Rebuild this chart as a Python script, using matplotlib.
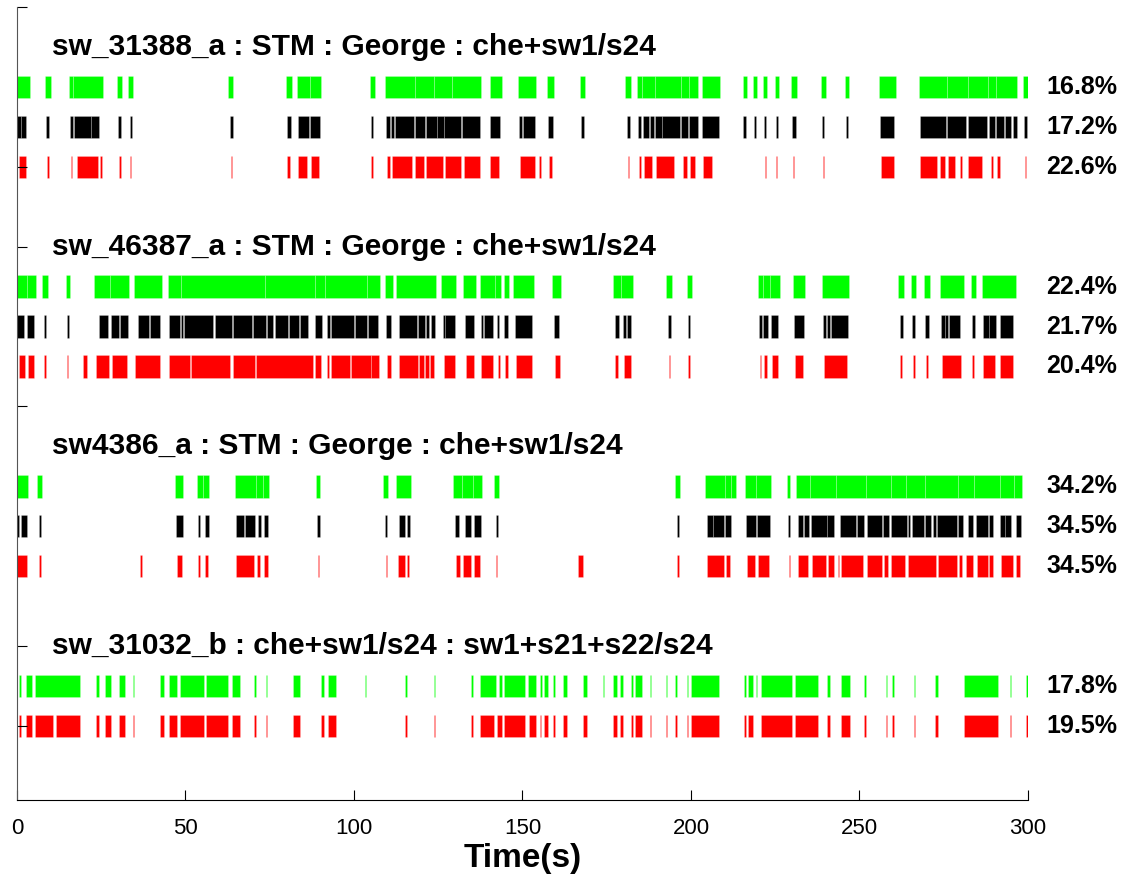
import matplotlib.pyplot as plt

# event intervals (s) for each rater row
g1_green = [(0.0, 3.9), (8.3, 10.0), (15.5, 16.7), (16.7, 25.6), (29.8, 31.3), (33.0, 34.5),
            (62.7, 64.2), (79.7, 81.7), (83.2, 86.8), (86.8, 90.2), (104.7, 106.1),
            (109.2, 118.0), (118.0, 123.6), (123.6, 129.1), (129.1, 137.7), (140.3, 143.8),
            (148.7, 154.1), (157.3, 159.5), (167.0, 168.6), (180.4, 182.2), (184.0, 185.5),
            (185.5, 189.4), (189.4, 196.9), (196.9, 199.5), (199.5, 202.0), (203.2, 208.6),
            (215.3, 216.5), (218.4, 219.7), (221.3, 222.7), (224.8, 226.1), (229.7, 231.5),
            (238.5, 240.0), (245.6, 247.0), (255.9, 260.8), (267.6, 276.1), (276.1, 282.1),
            (282.1, 288.0), (288.0, 290.5), (290.5, 296.7), (298.6, 300.0)]
g1_black = [(0.0, 1.2), (1.2, 2.8), (8.6, 9.6), (15.8, 16.5), (17.0, 22.1), (22.1, 24.3),
            (30.1, 30.9), (33.4, 34.2), (63.3, 64.1), (80.1, 81.3), (83.3, 86.7), (87.0, 89.9),
            (105.0, 105.7), (109.6, 110.6), (111.1, 111.8), (112.1, 117.7), (118.1, 121.1),
            (121.3, 124.6), (124.6, 126.6), (126.8, 131.9), (132.2, 137.4), (140.4, 143.4),
            (149.0, 149.9), (150.1, 153.8), (157.5, 159.1), (167.4, 168.2), (181.1, 181.9),
            (184.2, 185.1), (185.7, 187.5), (187.8, 189.1), (189.4, 191.5), (191.5, 196.7),
            (197.0, 199.1), (199.5, 202.0), (203.4, 208.4), (215.5, 216.2), (218.7, 219.4),
            (221.6, 222.4), (225.1, 225.8), (230.1, 231.1), (238.8, 239.6), (245.9, 246.7),
            (256.1, 260.3), (267.9, 275.7), (276.1, 281.6), (282.1, 287.8), (288.3, 290.2),
            (290.6, 292.8), (293.1, 295.0), (295.5, 296.6), (298.8, 299.7)]
g1_red = [(0.6, 2.7), (8.8, 9.5), (16.0, 16.4), (17.7, 24.1), (24.7, 25.2), (30.3, 30.9),
          (33.5, 33.9), (63.4, 63.8), (80.2, 81.1), (83.5, 86.1), (87.3, 89.6), (105.1, 105.5),
          (109.8, 110.6), (111.3, 117.3), (118.1, 120.9), (121.3, 126.4), (127.0, 131.9),
          (132.6, 137.4), (140.5, 143.0), (149.3, 153.8), (154.8, 155.6), (157.8, 158.8),
          (181.2, 181.7), (184.5, 185.1), (186.0, 188.5), (189.7, 195.1), (197.6, 198.9),
          (199.7, 201.2), (203.7, 206.3), (221.9, 222.2), (225.3, 225.6), (230.3, 230.6),
          (239.1, 239.4), (256.3, 260.1), (268.1, 272.9), (273.9, 275.3), (276.4, 278.4),
          (279.7, 280.4), (282.1, 286.5), (288.9, 289.6), (290.8, 291.8), (299.1, 299.5)]

g2_green = [(0.1, 2.9), (2.9, 5.6), (7.5, 9.2), (14.5, 15.8), (22.9, 27.7), (27.7, 33.3),
            (34.7, 43.0), (44.8, 48.8), (48.8, 73.5), (73.5, 88.3), (88.3, 91.4), (91.4, 103.9),
            (103.9, 107.8), (109.3, 111.5), (112.6, 124.2), (125.9, 130.3), (132.3, 136.2),
            (137.3, 141.8), (141.8, 143.5), (144.4, 146.1), (147.2, 153.3), (158.9, 161.5),
            (176.9, 179.3), (179.3, 182.7), (192.7, 194.3), (198.7, 200.2), (219.9, 221.4),
            (221.4, 223.5), (223.5, 226.3), (230.3, 233.8), (238.9, 246.9), (261.5, 263.2),
            (265.4, 266.9), (269.2, 270.9), (273.9, 280.9), (283.0, 284.7), (286.4, 296.5)]
g2_black = [(0.1, 2.0), (2.9, 4.9), (7.9, 8.7), (14.7, 15.4), (24.4, 26.9), (27.9, 30.2),
            (30.5, 33.0), (35.8, 39.3), (39.6, 42.5), (45.1, 48.4), (48.8, 49.4), (49.6, 58.3),
            (58.7, 63.8), (64.2, 69.7), (70.1, 74.0), (74.3, 76.1), (76.6, 80.3), (80.6, 83.6),
            (84.1, 86.5), (88.4, 90.5), (92.0, 93.0), (93.2, 99.9), (100.2, 103.9),
            (104.2, 107.1), (109.6, 111.1), (113.3, 118.7), (118.9, 121.2), (121.3, 122.3),
            (122.9, 123.9), (126.3, 126.9), (127.1, 130.0), (133.0, 135.7), (137.7, 138.2),
            (138.7, 141.2), (142.3, 143.1), (144.6, 145.8), (147.9, 152.9), (159.5, 160.8),
            (177.4, 178.5), (179.8, 180.8), (180.9, 182.1), (193.2, 194.0), (199.0, 199.8),
            (220.3, 221.1), (221.5, 223.0), (223.7, 225.8), (230.6, 233.4), (239.2, 240.1),
            (240.4, 241.3), (241.5, 246.5), (262.0, 262.9), (265.6, 266.5), (269.5, 270.5),
            (274.2, 275.3), (275.5, 276.3), (276.6, 279.9), (283.3, 284.3), (286.7, 288.3),
            (288.5, 290.4), (291.6, 295.7)]
g2_red = [(0.7, 2.4), (3.2, 5.1), (8.0, 8.6), (14.9, 15.2), (19.7, 20.9), (23.5, 27.2),
          (28.1, 32.6), (35.0, 42.5), (45.2, 51.4), (51.7, 63.3), (64.1, 70.5), (70.8, 87.8),
          (88.5, 90.3), (92.0, 92.7), (93.3, 98.9), (99.2, 105.0), (105.0, 107.3),
          (109.8, 111.0), (113.5, 118.9), (119.3, 120.7), (121.2, 122.2), (122.7, 123.7),
          (126.6, 129.9), (133.1, 135.5), (137.8, 141.2), (142.6, 143.2), (144.8, 145.7),
          (148.0, 152.7), (159.7, 161.0), (177.6, 178.4), (180.0, 182.1), (193.4, 193.9),
          (199.2, 199.7), (220.5, 220.9), (221.7, 222.7), (224.0, 225.7), (230.8, 233.1),
          (239.5, 246.2), (262.1, 262.5), (265.8, 266.4), (269.7, 270.3), (274.4, 280.1),
          (283.5, 284.1), (286.8, 290.2), (291.8, 295.7)]

g3_green = [(0.1, 3.3), (6.0, 7.4), (46.9, 49.4), (53.5, 55.2), (55.2, 57.1), (64.7, 70.9),
            (70.9, 73.0), (73.0, 74.9), (88.6, 90.0), (108.7, 110.1), (112.4, 116.9),
            (129.4, 132.0), (132.0, 135.3), (135.3, 137.9), (141.6, 142.9), (195.4, 196.8),
            (204.3, 210.0), (210.0, 212.0), (212.0, 213.5), (215.9, 219.4), (219.4, 223.8),
            (228.4, 229.5), (231.1, 235.3), (235.3, 242.9), (242.9, 251.8), (251.8, 259.3),
            (259.3, 263.9), (263.9, 269.3), (269.3, 279.1), (279.1, 284.0), (284.0, 291.6),
            (291.6, 296.0), (296.0, 298.2)]
g3_black = [(0.0, 0.6), (1.2, 3.0), (6.4, 7.0), (47.2, 49.2), (53.8, 54.4), (55.7, 56.9),
            (65.0, 67.5), (67.8, 70.5), (71.6, 72.5), (73.3, 74.6), (89.1, 89.8), (109.2, 109.9),
            (113.5, 115.1), (115.6, 116.6), (130.1, 131.2), (132.9, 134.8), (135.6, 137.6),
            (142.0, 142.6), (195.8, 196.5), (204.7, 206.5), (206.5, 209.8), (210.2, 211.9),
            (216.3, 219.3), (219.6, 223.4), (228.8, 229.4), (231.7, 233.1), (233.4, 235.1),
            (235.7, 240.3), (240.5, 242.4), (244.1, 249.0), (249.4, 251.4), (252.1, 256.8),
            (257.1, 258.8), (259.3, 264.0), (264.3, 265.0), (265.5, 269.0), (269.4, 271.2),
            (271.8, 272.7), (273.0, 278.9), (279.3, 280.6), (282.1, 283.6), (284.6, 288.0),
            (288.3, 289.7), (291.7, 293.1), (293.2, 295.1), (296.3, 297.9)]
g3_red = [(0.1, 3.0), (6.5, 7.0), (36.5, 37.1), (47.4, 49.0), (53.8, 54.4), (55.9, 56.6),
          (65.1, 70.2), (71.2, 72.2), (73.4, 74.5), (89.3, 89.7), (109.4, 109.8), (113.1, 115.0),
          (115.8, 116.4), (130.2, 131.4), (132.4, 134.8), (135.6, 137.3), (142.1, 142.4),
          (166.4, 167.9), (196.0, 196.3), (204.9, 209.7), (210.5, 211.6), (216.5, 218.9),
          (219.8, 223.3), (229.1, 229.4), (231.8, 234.8), (235.8, 240.1), (240.6, 242.3),
          (243.5, 244.0), (244.4, 251.1), (252.2, 256.8), (257.3, 258.6), (259.5, 263.5),
          (264.4, 272.7), (273.2, 278.9), (279.5, 280.5), (281.5, 283.6), (284.8, 288.0),
          (288.5, 289.6), (292.0, 295.5), (296.5, 297.6)]

g4_green = [(0.7, 1.3), (2.8, 4.5), (5.3, 18.8), (23.5, 24.3), (26.1, 27.8), (30.4, 32.1),
            (34.4, 34.7), (42.4, 43.7), (45.1, 47.6), (48.5, 55.5), (56.2, 62.7), (63.9, 66.3),
            (70.4, 70.8), (73.9, 74.2), (81.9, 84.0), (90.3, 91.2), (92.3, 94.7), (103.2, 103.7),
            (115.2, 115.7), (123.6, 124.1), (134.8, 135.2), (137.3, 142.2), (142.9, 143.9),
            (144.6, 150.6), (151.6, 154.1), (155.3, 155.7), (156.3, 157.7), (159.1, 159.6),
            (162.1, 163.1), (168.1, 169.0), (174.0, 174.2), (176.8, 177.9), (178.9, 179.9),
            (182.1, 182.7), (183.3, 185.6), (187.7, 188.2), (192.5, 193.0), (195.4, 195.9),
            (198.7, 199.2), (200.0, 208.2), (215.7, 216.3), (216.9, 218.4), (219.2, 219.5),
            (220.7, 230.0), (230.8, 237.8), (240.3, 241.4), (244.5, 247.2), (251.4, 251.8),
            (257.9, 258.3), (259.7, 260.1), (266.1, 266.5), (272.3, 273.4), (281.0, 291.1),
            (294.6, 295.0), (299.4, 299.9)]
g4_red = [(0.7, 1.3), (2.8, 4.5), (5.3, 10.8), (11.6, 18.8), (23.5, 24.3), (26.1, 27.8),
          (30.4, 32.1), (34.4, 34.7), (42.4, 43.7), (45.1, 47.6), (48.5, 55.5), (56.2, 62.7),
          (63.9, 66.3), (70.4, 70.8), (73.9, 74.2), (81.9, 84.0), (90.3, 91.2), (92.3, 94.7),
          (115.2, 115.7), (123.6, 124.1), (134.8, 135.2), (137.3, 141.5), (142.5, 143.9),
          (144.6, 150.6), (151.8, 154.1), (155.3, 155.6), (156.3, 157.7), (159.1, 159.6),
          (162.1, 163.1), (168.1, 169.0), (176.8, 177.9), (178.9, 179.9), (182.1, 182.7),
          (183.3, 185.6), (187.7, 188.2), (192.5, 193.0), (195.4, 195.9), (198.7, 199.2),
          (200.0, 208.4), (215.7, 216.3), (216.9, 218.4), (220.7, 230.1), (230.8, 237.8),
          (240.3, 241.2), (244.5, 247.2), (251.4, 251.8), (257.9, 258.3), (259.7, 260.1),
          (266.1, 266.5), (272.3, 273.4), (281.0, 291.1), (294.6, 295.0), (299.4, 299.9)]

titles = ['sw_31388_a : STM : George : che+sw1/s24',
          'sw_46387_a : STM : George : che+sw1/s24',
          'sw4386_a : STM : George : che+sw1/s24',
          'sw_31032_b : che+sw1/s24 : sw1+s21+s22/s24']
title_y = [1, 6, 11, 16]

rows = [(g1_green, '#00ff00', 2, '16.8%'), (g1_black, 'k', 3, '17.2%'), (g1_red, '#ff0000', 4, '22.6%'),
        (g2_green, '#00ff00', 7, '22.4%'), (g2_black, 'k', 8, '21.7%'), (g2_red, '#ff0000', 9, '20.4%'),
        (g3_green, '#00ff00', 12, '34.2%'), (g3_black, 'k', 13, '34.5%'), (g3_red, '#ff0000', 14, '34.5%'),
        (g4_green, '#00ff00', 17, '17.8%'), (g4_red, '#ff0000', 18, '19.5%')]

plt.rcParams['font.family'] = ['Liberation Sans', 'DejaVu Sans']

fig = plt.figure(figsize=(11.33, 8.76), dpi=100)
ax = fig.add_axes([0.015, 0.0868, 0.8923, 0.9053])

h = 0.56
for segs, col, y, pct in rows:
    ax.broken_barh([(a, b - a) for a, b in segs], (y - h / 2, h), facecolors=col,
                   edgecolors=(1, 1, 1, 0.35), linewidth=0.4)
    ax.text(305.5, y, pct, fontsize=18, fontweight='bold', va='center', ha='left', clip_on=False)

for t, y in zip(titles, title_y):
    ax.text(10.4, y, t, fontsize=21.5, fontweight='bold', va='center', ha='left')

ax.set_xlim(0, 300)
ax.set_ylim(19.85, 0)
ax.set_xticks(range(0, 301, 50))
ax.set_yticks([0, 4, 6, 10, 16, 18])
ax.set_yticklabels([])
ax.tick_params(direction='in', length=7, labelsize=16, width=0.8)
ax.tick_params(axis='x', pad=13)
ax.spines['top'].set_visible(False)
ax.spines['right'].set_visible(False)
ax.spines['left'].set_color('#555555')
ax.set_xlabel('Time(s)', fontsize=24, fontweight='bold', labelpad=3)

fig.savefig('out.png', dpi=100)
